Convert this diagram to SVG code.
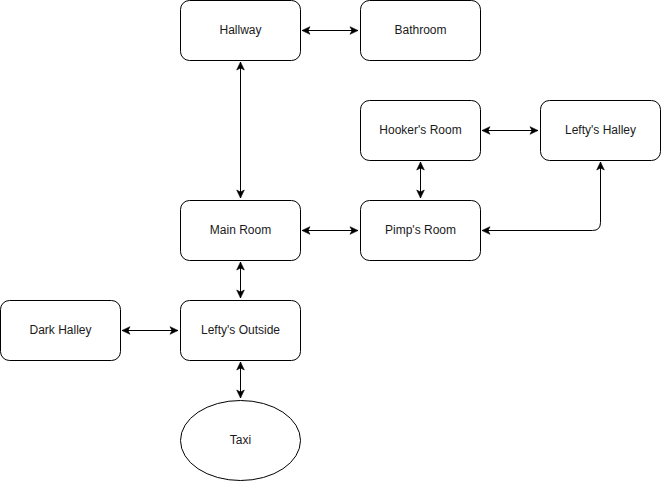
<svg xmlns="http://www.w3.org/2000/svg" width="661" height="481" viewBox="0 0 661 481">
<style>
.n{fill:#fff;stroke:#000;stroke-width:1}
.t{font-family:"Liberation Sans",Arial,sans-serif;font-size:12px;fill:#1a1a1a;text-anchor:middle;dominant-baseline:central}
.c{fill:none;stroke:#000;stroke-width:1}
</style>
<defs>
<marker id="a" markerUnits="userSpaceOnUse" markerWidth="10" markerHeight="10" viewBox="0 0 10 10" refX="9" refY="5" orient="auto-start-reverse">
<path d="M1,1.2 L9,5 L1,8.8 L3,5 Z" fill="#000" stroke="#000" stroke-width="0.6"/>
</marker>
</defs>
<rect width="661" height="481" fill="#fff"/>
<g id="connectors">
<path class="c" d="M302,30.5 H358" marker-start="url(#a)" marker-end="url(#a)"/>
<path class="c" d="M240.5,62 V198" marker-start="url(#a)" marker-end="url(#a)"/>
<path class="c" d="M482,130.5 H538" marker-start="url(#a)" marker-end="url(#a)"/>
<path class="c" d="M420.5,162 V198" marker-start="url(#a)" marker-end="url(#a)"/>
<path class="c" d="M302,230.5 H358" marker-start="url(#a)" marker-end="url(#a)"/>
<path class="c" d="M482,230.5 H592.5 Q600.5,230.5 600.5,222.5 V162" marker-start="url(#a)" marker-end="url(#a)"/>
<path class="c" d="M240.5,262 V298" marker-start="url(#a)" marker-end="url(#a)"/>
<path class="c" d="M122,330.5 H178" marker-start="url(#a)" marker-end="url(#a)"/>
<path class="c" d="M240.5,362 V398" marker-start="url(#a)" marker-end="url(#a)"/>
</g>
<g id="hallway"><rect class="n" x="180.5" y="0.5" width="120" height="60" rx="9"/><text class="t" x="240.5" y="29.5">Hallway</text></g>
<g id="bathroom"><rect class="n" x="360.5" y="0.5" width="120" height="60" rx="9"/><text class="t" x="420.5" y="29.5">Bathroom</text></g>
<g id="hookers-room"><rect class="n" x="360.5" y="100.5" width="120" height="60" rx="9"/><text class="t" x="420.5" y="129.5">Hooker's Room</text></g>
<g id="leftys-halley"><rect class="n" x="540.5" y="100.5" width="120" height="60" rx="9"/><text class="t" x="600.5" y="129.5">Lefty's Halley</text></g>
<g id="main-room"><rect class="n" x="180.5" y="200.5" width="120" height="60" rx="9"/><text class="t" x="240.5" y="229.5">Main Room</text></g>
<g id="pimps-room"><rect class="n" x="360.5" y="200.5" width="120" height="60" rx="9"/><text class="t" x="420.5" y="229.5">Pimp's Room</text></g>
<g id="dark-halley"><rect class="n" x="0.5" y="300.5" width="120" height="60" rx="9"/><text class="t" x="60.5" y="329.5">Dark Halley</text></g>
<g id="leftys-outside"><rect class="n" x="180.5" y="300.5" width="120" height="60" rx="9"/><text class="t" x="240.5" y="329.5">Lefty's Outside</text></g>
<g id="taxi"><ellipse class="n" cx="240.5" cy="440.5" rx="60" ry="40"/><text class="t" x="240.5" y="439.5">Taxi</text></g>
</svg>
